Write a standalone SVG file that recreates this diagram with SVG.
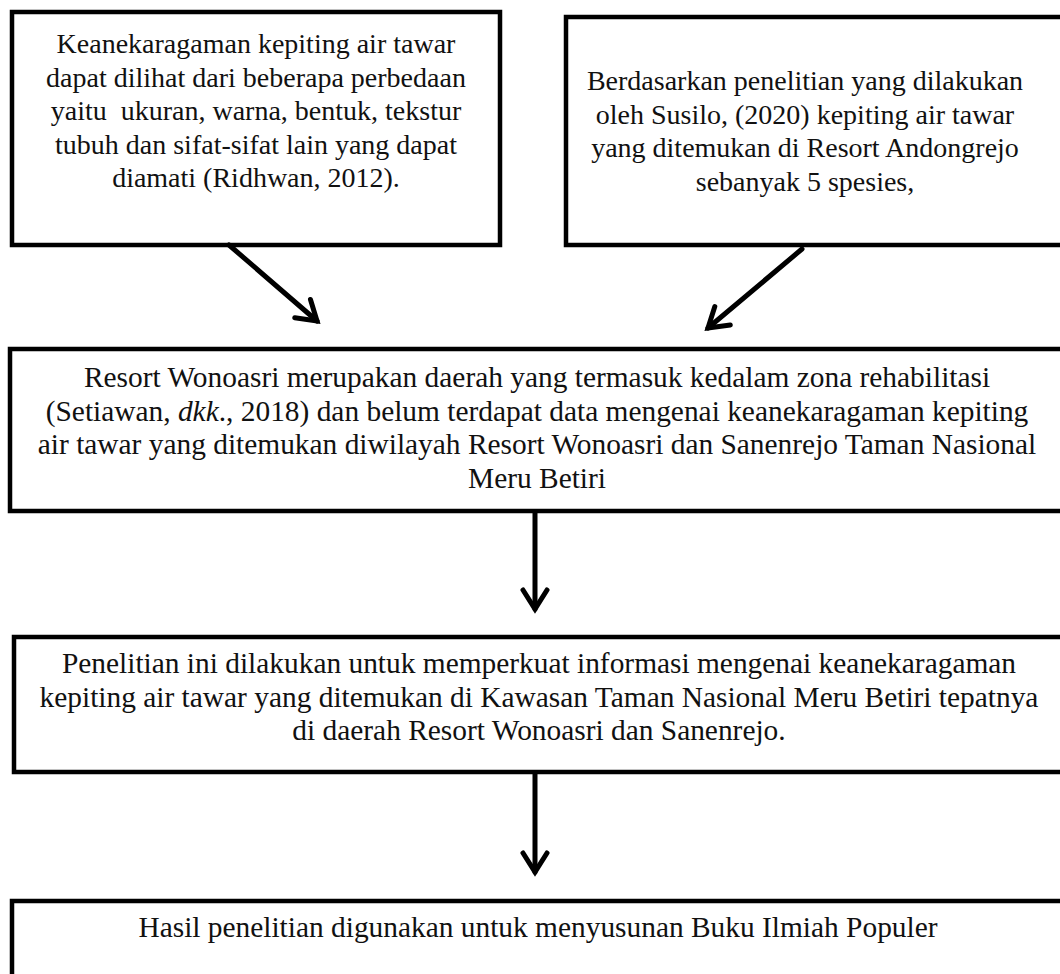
<svg xmlns="http://www.w3.org/2000/svg" width="1060" height="974" viewBox="0 0 1060 974">
<style>
.box{fill:#ffffff;stroke:#000;stroke-width:4.5}
.t{font-family:"Liberation Serif","Times New Roman",serif;font-size:28px;fill:#111;text-anchor:middle}
.w{font-size:29.4px}
.c{stroke:#000;stroke-width:5;fill:none;stroke-linecap:round}
</style>
<defs>
<marker id="ah" markerUnits="userSpaceOnUse" markerWidth="30" markerHeight="30" refX="0" refY="0" viewBox="-22 -15 26 30" orient="auto" overflow="visible">
<path d="M-19,-12 L0,0 L-19,12" fill="none" stroke="#000" stroke-width="5" stroke-linecap="round" stroke-linejoin="miter"/>
</marker>
</defs>
<rect width="1060" height="974" fill="#ffffff"/>
<g id="node1">
<rect class="box" x="12" y="12" width="488" height="233"/>
<text class="t" x="256" y="53">Keanekaragaman kepiting air tawar</text>
<text class="t" x="256" y="86.5">dapat dilihat dari beberapa perbedaan</text>
<text class="t" x="256" y="120" xml:space="preserve">yaitu  ukuran, warna, bentuk, tekstur</text>
<text class="t" x="256" y="153.5">tubuh dan sifat-sifat lain yang dapat</text>
<text class="t" x="256" y="187">diamati (Ridhwan, 2012).</text>
</g>
<g id="node2">
<rect class="box" x="566" y="17" width="510" height="228"/>
<text class="t" x="805" y="90">Berdasarkan penelitian yang dilakukan</text>
<text class="t" x="805" y="123.5">oleh Susilo, (2020) kepiting air tawar</text>
<text class="t" x="805" y="157">yang ditemukan di Resort Andongrejo</text>
<text class="t" x="805" y="191">sebanyak 5 spesies,</text>
</g>
<g id="node3">
<rect class="box" x="10" y="349" width="1066" height="162"/>
<text class="t w" x="537" y="387">Resort Wonoasri merupakan daerah yang termasuk kedalam zona rehabilitasi</text>
<text class="t w" x="537" y="420.5">(Setiawan, <tspan font-style="italic">dkk</tspan>., 2018) dan belum terdapat data mengenai keanekaragaman kepiting</text>
<text class="t w" x="537" y="454">air tawar yang ditemukan diwilayah Resort Wonoasri dan Sanenrejo Taman Nasional</text>
<text class="t w" x="537" y="487.5">Meru Betiri</text>
</g>
<g id="node4">
<rect class="box" x="14" y="637" width="1062" height="135"/>
<text class="t w" x="539" y="673">Penelitian ini dilakukan untuk memperkuat informasi mengenai keanekaragaman</text>
<text class="t w" x="539" y="706.5">kepiting air tawar yang ditemukan di Kawasan Taman Nasional Meru Betiri tepatnya</text>
<text class="t w" x="539" y="740">di daerah Resort Wonoasri dan Sanenrejo.</text>
</g>
<g id="node5">
<rect class="box" x="12" y="901" width="1064" height="100"/>
<text class="t w" x="538" y="937">Hasil penelitian digunakan untuk menyusunan Buku Ilmiah Populer</text>
</g>
<g id="connectors">
<line class="c" x1="229" y1="245" x2="317" y2="321" marker-end="url(#ah)"/>
<line class="c" x1="802" y1="249" x2="708" y2="328" marker-end="url(#ah)"/>
<line class="c" x1="535" y1="513" x2="535" y2="609" marker-end="url(#ah)"/>
<line class="c" x1="535" y1="774" x2="535" y2="872" marker-end="url(#ah)"/>
</g>
</svg>
